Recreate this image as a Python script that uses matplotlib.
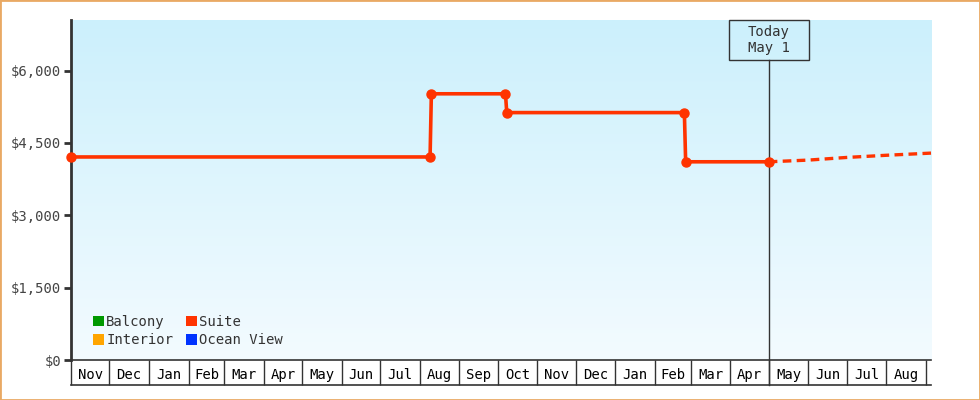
import numpy as np
import pandas as pd
import matplotlib
matplotlib.use('Agg')
import matplotlib.pyplot as plt
import matplotlib.dates as mdates
from matplotlib.patches import Patch, Rectangle
from matplotlib.ticker import FuncFormatter

# price history (Suite)
hist_dates = np.array(['2017-11-01', '2018-08-09', '2018-08-10', '2018-10-07', '2018-10-08',
                       '2019-02-24', '2019-02-25', '2019-05-01'], dtype='datetime64[D]')
hist_vals = [4210, 4210, 5520, 5520, 5130, 5130, 4110, 4110]

# forecast (dashed)
fc_dates = np.array(['2019-05-01', '2019-06-01', '2019-07-01', '2019-08-01', '2019-09-05'],
                    dtype='datetime64[D]')
fc_vals = [4110, 4145, 4200, 4245, 4290]

today = np.datetime64('2019-05-01')
today_label = 'Today\nMay 1'

legend_names = ['Balcony', 'Interior', 'Suite', 'Ocean View']
legend_cols = ['#009900', '#ffa500', '#ff3300', '#0033ff']

yticks = [0, 1500, 3000, 4500, 6000]
x_start, x_end = np.datetime64('2017-11-01'), np.datetime64('2019-09-05')
month_edges = pd.date_range('2017-11-01', '2019-09-01', freq='MS')

mono = 'DejaVu Sans Mono'
dark = '#333333'
red = '#ff3300'

fig = plt.figure(figsize=(9.8, 4), dpi=100)
ax = fig.add_axes([71/980, 40/400, 860/980, 340/400])

# gradient background
grad = np.linspace(0, 1, 256).reshape(-1, 1)
cmap = matplotlib.colors.LinearSegmentedColormap.from_list('bg', ['#ccf0fc', '#f3fbff'])
ax.imshow(grad, extent=[0, 1, 0, 1], transform=ax.transAxes, aspect='auto', cmap=cmap, zorder=0)

ax.plot(hist_dates, hist_vals, color=red, lw=2.6, marker='o', ms=6.5, zorder=4, clip_on=False)
ax.plot(fc_dates, fc_vals, color=red, lw=2.4, ls=(0, (2.6, 1.6)), zorder=4, clip_on=False)

ax.set_xlim(x_start, x_end)
ax.set_ylim(0, 7050)

# y axis
ax.set_yticks(yticks)
ax.yaxis.set_major_formatter(FuncFormatter(lambda v, p: '${:,.0f}'.format(v)))
ax.tick_params(axis='y', length=5, width=2, color=dark, labelcolor='#444444', pad=2)
for lab in ax.get_yticklabels():
    lab.set_fontfamily(mono)
    lab.set_fontsize(10)
for s in ['top', 'right']:
    ax.spines[s].set_visible(False)
ax.spines['left'].set_linewidth(2)
ax.spines['left'].set_color(dark)
ax.spines['bottom'].set_linewidth(1.2)
ax.spines['bottom'].set_color(dark)

# month boxes under the axis
mids = month_edges[:-1] + (month_edges[1:] - month_edges[:-1]) / 2
ax.set_xticks(mdates.date2num(month_edges), minor=True)
ax.set_xticks(mdates.date2num(mids))
ax.set_xticklabels([d.strftime('%b') for d in month_edges[:-1]], fontfamily=mono, fontsize=10, color='black')
ax.tick_params(axis='x', which='major', length=0, pad=6)
ax.tick_params(axis='x', which='minor', length=18, width=1, color=dark, direction='out')
ax.plot([x_start, x_end], [-25/340, -25/340], transform=ax.get_xaxis_transform(),
        color=dark, lw=1.2, clip_on=False)

# today marker
xform = ax.get_xaxis_transform()
ax.plot([today, today], [-25/340, 300/340], transform=xform,
        color=dark, lw=1, clip_on=False, zorder=3)
t_num = mdates.date2num(today)
box_days = 80 / (860 / (x_end - x_start).astype(int))
ax.add_patch(Rectangle((t_num - box_days / 2, 300/340), box_days, 40/340, transform=xform,
                       fill=False, ec=dark, lw=1, clip_on=False, zorder=3))
ax.text(today, 320/340, today_label, transform=xform, ha='center', va='center',
        fontfamily=mono, fontsize=10, color=dark, linespacing=1.25)

# legend
handles = [Patch(facecolor=c, edgecolor='none', label=n) for n, c in zip(legend_names, legend_cols)]
ax.legend(handles=handles, ncol=2, loc='lower left', bbox_to_anchor=(0.011, 0.0), frameon=False,
          prop={'family': mono, 'size': 10}, handlelength=0.8, handleheight=0.8,
          handletextpad=0.15, columnspacing=0.9, labelspacing=0.35, labelcolor=dark)

fig.add_artist(Rectangle((0, 0), 1, 1, transform=fig.transFigure, fill=False,
                         ec='#e9a964', lw=2))
fig.savefig('out.png', dpi=100)
